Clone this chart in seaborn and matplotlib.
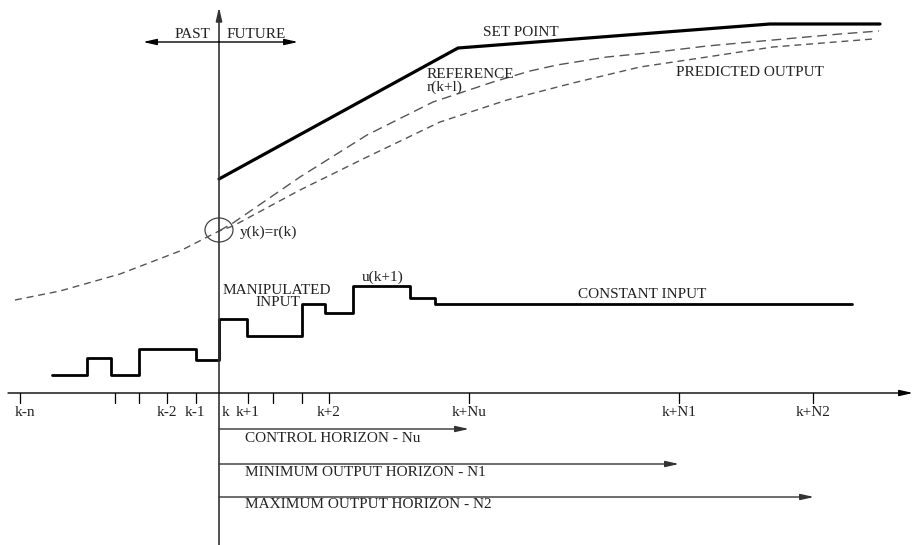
import matplotlib
matplotlib.use("Agg")
import matplotlib.pyplot as plt
from matplotlib.patches import Ellipse
import numpy as np
import pandas as pd
import seaborn as sns

# Diagram is laid out in a pixel-like frame: x 0..914 to the right, y 0..545 downwards
W, H = 914, 545
K_X = 219          # present instant k
AXIS_Y = 393       # time axis

# set point trajectory
sp_x = [219, 458, 770, 880]
sp_y = [179, 48, 24, 24]

# reference trajectory r(k+l)
ref_x = [219, 233, 300, 367, 433, 493, 530, 557, 607, 657, 707, 773, 840, 879]
ref_y = [231, 223, 177, 135, 102, 82, 71, 65, 57, 52, 46, 40, 34, 31]

# past output + predicted output
pred_x = [15, 60, 120, 180, 219, 233, 300, 367, 440, 507, 573, 640, 707, 773, 873]
pred_y = [300, 291, 274, 251, 231, 226, 190, 157, 122, 100, 83, 67, 57, 47, 39]

# manipulated input (piecewise constant)
u_x = [52, 87, 111, 139, 196, 219, 247, 302, 325, 353, 410, 435, 852]
u_y = [375, 358, 375, 349, 360, 319, 336, 304, 313, 286, 298, 304, 304]

# time axis ticks and labels
tick_x = [20, 115, 139, 167, 196, 248, 273, 302, 329, 469, 679, 813]
tick_labels = ["k-n", "k-2", "k-1", "k", "k+1", "k+2", "k+Nu", "k+N1", "k+N2"]
label_x = [25, 167, 195, 226, 248, 329, 469, 679, 813]

# horizons
horizon_names = ["CONTROL HORIZON - Nu", "MINIMUM OUTPUT HORIZON - N1",
                 "MAXIMUM OUTPUT HORIZON - N2"]
horizon_end = [469, 679, 814]
horizon_y = [429, 464, 497]
horizon_text_y = [438, 472, 505]

sns.set_theme(style="white")
plt.rcParams["font.family"] = ["Liberation Serif", "DejaVu Serif"]

fig = plt.figure(figsize=(W / 100, H / 100), dpi=100)
ax = fig.add_axes([0, 0, 1, 1])
ax.set_xlim(0, W)
ax.set_ylim(H, 0)
ax.axis("off")

TXT = "#222222"
FS = 11

# curves
sns.lineplot(x=sp_x, y=sp_y, sort=False, estimator=None, color="black", lw=2.3, ax=ax)
sns.lineplot(x=ref_x, y=ref_y, sort=False, estimator=None, color="#555555", lw=1,
             linestyle=(0, (7, 4)), ax=ax)
sns.lineplot(x=pred_x, y=pred_y, sort=False, estimator=None, color="#555555", lw=1,
             linestyle=(0, (5, 3.5)), ax=ax)
sns.lineplot(x=u_x, y=u_y, sort=False, estimator=None, color="black", lw=2,
             drawstyle="steps-post", ax=ax)

ax.add_patch(Ellipse((K_X, 230), 28, 24, fill=False, ec="#444444", lw=0.9))

arrow = dict(arrowstyle="-|>,head_length=0.8,head_width=0.18", color="black",
             lw=1, shrinkA=0, shrinkB=0, mutation_scale=10)

# vertical (present) axis
ax.annotate("", xy=(K_X, 7), xytext=(K_X, H), arrowprops=dict(arrow, color="#333333", lw=1.2))
# past / future arrow
ax.annotate("", xy=(143, 42), xytext=(K_X, 42), arrowprops=arrow)
ax.annotate("", xy=(298, 42), xytext=(K_X, 42), arrowprops=arrow)
ax.text(175, 35, "PAST", fontsize=FS, color=TXT, va="center")
ax.text(227, 35, "FUTURE", fontsize=FS, color=TXT, va="center")

# time axis
ax.annotate("", xy=(913, AXIS_Y), xytext=(8, AXIS_Y), arrowprops=arrow)
for tx in tick_x:
    ax.plot([tx, tx], [AXIS_Y, AXIS_Y + 10], color="black", lw=0.9)
for lx, lab in zip(label_x, tick_labels):
    ax.text(lx, 413, lab, fontsize=FS, color=TXT, ha="center", va="center")

# horizons
for name, xe, hy, ty in zip(horizon_names, horizon_end, horizon_y, horizon_text_y):
    ax.annotate("", xy=(xe, hy), xytext=(K_X, hy), arrowprops=dict(arrow, color="#333333"))
    ax.text(245, ty, name, fontsize=FS, color=TXT, va="center")

# labels
ax.text(483, 33, "SET POINT", fontsize=FS, color=TXT, va="center")
ax.text(427, 74, "REFERENCE", fontsize=FS, color=TXT, va="center")
ax.text(427, 87, "r(k+l)", fontsize=FS, color=TXT, va="center")
ax.text(676, 72, "PREDICTED OUTPUT", fontsize=FS, color=TXT, va="center")
ax.text(240, 232, "y(k)=r(k)", fontsize=FS, color=TXT, va="center")
ax.text(223, 291, "MANIPULATED", fontsize=FS, color=TXT, va="center")
ax.text(255, 303, "INPUT", fontsize=FS, color=TXT, va="center")
ax.text(362, 277, "u(k+1)", fontsize=FS, color=TXT, va="center")
ax.text(578, 294, "CONSTANT INPUT", fontsize=FS, color=TXT, va="center")

fig.savefig("out.png", dpi=100, facecolor="white")
